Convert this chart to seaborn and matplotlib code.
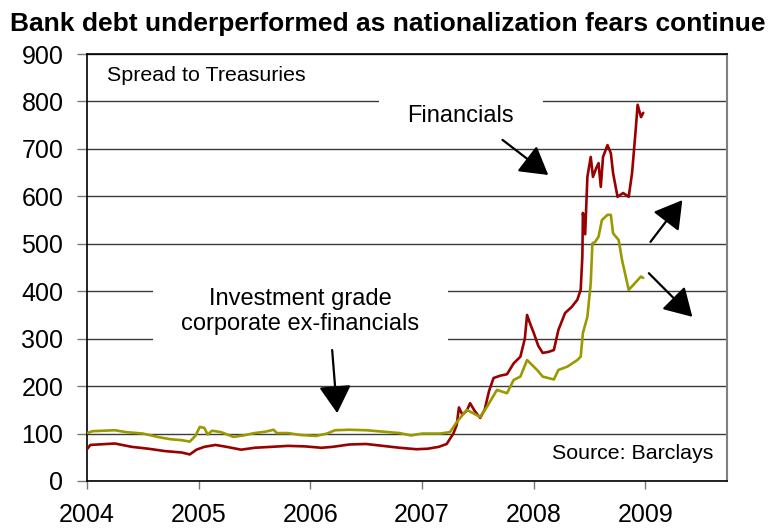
import matplotlib
matplotlib.use("Agg")
import matplotlib.pyplot as plt
import matplotlib.patches as mpatches
import seaborn as sns
import pandas as pd
from matplotlib import font_manager

# ---- data (decimal years, spread in bp) ----
fin_years = [2004.00, 2004.03, 2004.10, 2004.25, 2004.40, 2004.55, 2004.70, 2004.85, 2004.92, 2004.98,
             2005.05, 2005.15, 2005.25, 2005.38, 2005.50, 2005.65, 2005.80, 2005.95, 2006.10, 2006.20,
             2006.35, 2006.50, 2006.65, 2006.80, 2006.95, 2007.05, 2007.15, 2007.22, 2007.28, 2007.31,
             2007.33, 2007.36, 2007.40, 2007.43, 2007.47, 2007.52, 2007.56, 2007.60, 2007.64, 2007.70,
             2007.76, 2007.82, 2007.88, 2007.92, 2007.94, 2007.97, 2008.00, 2008.04, 2008.08, 2008.13,
             2008.18, 2008.22, 2008.28, 2008.34, 2008.39, 2008.42, 2008.435, 2008.44, 2008.46, 2008.48,
             2008.51, 2008.53, 2008.56, 2008.58, 2008.60, 2008.62, 2008.66, 2008.69, 2008.71, 2008.75,
             2008.80, 2008.85, 2008.88, 2008.91, 2008.93, 2008.96, 2008.98]
fin_values = [67, 76, 77, 79, 72, 68, 63, 60, 56, 66,
              72, 76, 72, 66, 70, 72, 74, 73, 70, 72,
              77, 78, 74, 70, 67, 68, 72, 78, 100, 118,
              155, 140, 148, 164, 148, 133, 150, 190, 217, 222,
              225, 248, 262, 300, 350, 330, 312, 285, 270, 272,
              276, 318, 354, 367, 382, 403, 473, 565, 520, 641,
              683, 641, 660, 670, 620, 683, 708, 691, 649, 599,
              607, 599, 649, 733, 793, 767, 776]

ig_years = [2004.00, 2004.05, 2004.15, 2004.25, 2004.35, 2004.50, 2004.65, 2004.75, 2004.85, 2004.92,
            2004.97, 2005.01, 2005.05, 2005.08, 2005.12, 2005.20, 2005.31, 2005.40, 2005.50, 2005.60,
            2005.67, 2005.70, 2005.80, 2005.91, 2006.05, 2006.15, 2006.22, 2006.35, 2006.50, 2006.65,
            2006.80, 2006.90, 2007.00, 2007.16, 2007.25, 2007.31, 2007.40, 2007.48, 2007.52, 2007.58,
            2007.67, 2007.76, 2007.82, 2007.88, 2007.94, 2008.03, 2008.08, 2008.18, 2008.22, 2008.30,
            2008.39, 2008.42, 2008.44, 2008.48, 2008.51, 2008.525, 2008.55, 2008.58, 2008.61, 2008.66,
            2008.69, 2008.71, 2008.76, 2008.79, 2008.85, 2008.89, 2008.96, 2008.98]
ig_values = [101, 105, 106, 107, 103, 100, 92, 88, 86, 83,
             95, 114, 112, 98, 106, 103, 93, 96, 101, 104,
             108, 101, 101, 97, 95, 100, 107, 108, 107, 104,
             101, 96, 100, 100, 103, 124, 150, 140, 135, 156,
             192, 185, 213, 220, 255, 234, 220, 214, 234, 241,
             255, 262, 312, 346, 417, 501, 504, 515, 550, 561,
             561, 522, 508, 466, 403, 413, 431, 428]

series_names = ["Financials", "Investment grade corporate ex-financials"]
x_tick_labels = ["2004", "2005", "2006", "2007", "2008", "2009"]
y_ticks = [0, 100, 200, 300, 400, 500, 600, 700, 800, 900]

df = pd.concat([
    pd.DataFrame({"year": fin_years, "spread": fin_values, "series": series_names[0]}),
    pd.DataFrame({"year": ig_years, "spread": ig_values, "series": series_names[1]}),
])

sns.set_style("white")
plt.rcParams["font.family"] = ["Liberation Sans", "DejaVu Sans"]
plt.rcParams["text.color"] = "black"

fig = plt.figure(figsize=(7.75, 5.31), dpi=100)
ax = fig.add_axes([87/775, 1-481/531, 640/775, 427/531])

sns.lineplot(data=df, x="year", y="spread", hue="series", ax=ax, legend=False,
             palette={series_names[0]: "#990000", series_names[1]: "#999900"},
             linewidth=1.9, estimator=None, sort=False, zorder=3)

ax.set_xlim(2004, 2009.73)
ax.set_ylim(0, 900)
ax.set_xticks([int(t) for t in x_tick_labels])
ax.set_xticklabels(x_tick_labels)
ax.set_yticks(y_ticks)
ax.set_yticklabels([str(v) for v in y_ticks])
ax.set_xlabel("")
ax.set_ylabel("")

ax.set_axisbelow(True)
ax.yaxis.grid(True, color="#3a3a3a", linewidth=1.0)
ax.xaxis.grid(False)

ax.tick_params(axis="x", direction="out", length=6, width=1, colors="#777777",
               labelcolor="black", labelsize=18, pad=10, bottom=True)
ax.tick_params(axis="y", direction="out", length=7, width=1, colors="#777777",
               labelcolor="black", labelsize=18, pad=10, left=True)

for side in ["left", "top", "bottom"]:
    ax.spines[side].set_color("black")
    ax.spines[side].set_linewidth(1.2)
ax.spines["right"].set_color("#808080")
ax.spines["right"].set_linewidth(1.5)

# white masks behind labels (hide gridlines)
ax.add_patch(mpatches.Rectangle((2006.61, 730), 1.47, 100, facecolor="white",
                                edgecolor="none", zorder=1))
ax.add_patch(mpatches.Rectangle((2004.59, 270), 2.64, 170, facecolor="white",
                                edgecolor="none", zorder=1))

ax.text(2004.18, 854, "Spread to Treasuries", fontsize=15.4, ha="left", va="center",
        color="black", zorder=4)
ax.text(2007.34, 769, "Financials", fontsize=17, ha="center", va="center",
        color="black", zorder=4)
ax.text(2005.91, 357, "Investment grade\ncorporate ex-financials", fontsize=17,
        ha="center", va="center", linespacing=1.15, color="black", zorder=4)
ax.text(2009.61, 59, "Source: Barclays", fontsize=15.4, ha="right", va="center",
        color="black", zorder=4)

arrow_kw = dict(arrowstyle="-|>,head_length=0.85,head_width=0.5", color="black", lw=1.6,
                shrinkA=0, shrinkB=0, mutation_scale=20)
ax.annotate("", xy=(2008.13, 645), xytext=(2007.72, 719), arrowprops=arrow_kw, zorder=5)
ax.annotate("", xy=(2006.24, 143), xytext=(2006.195, 276), arrowprops=arrow_kw, zorder=5)
ax.annotate("", xy=(2009.33, 592), xytext=(2009.045, 504), arrowprops=arrow_kw, zorder=5)
ax.annotate("", xy=(2009.42, 346), xytext=(2009.03, 438), arrowprops=arrow_kw, zorder=5)

names = {f.name for f in font_manager.fontManager.ttflist}
title_family = ["Liberation Sans Narrow", "Liberation Sans"] if "Liberation Sans Narrow" in names else ["Liberation Sans"]
fig.text(0.5, 1-24/531, "Bank debt underperformed as nationalization fears continue",
         ha="center", va="center", fontsize=19, fontweight="bold", family=title_family,
         color="black")

fig.savefig("out.png", dpi=100, facecolor="white")
